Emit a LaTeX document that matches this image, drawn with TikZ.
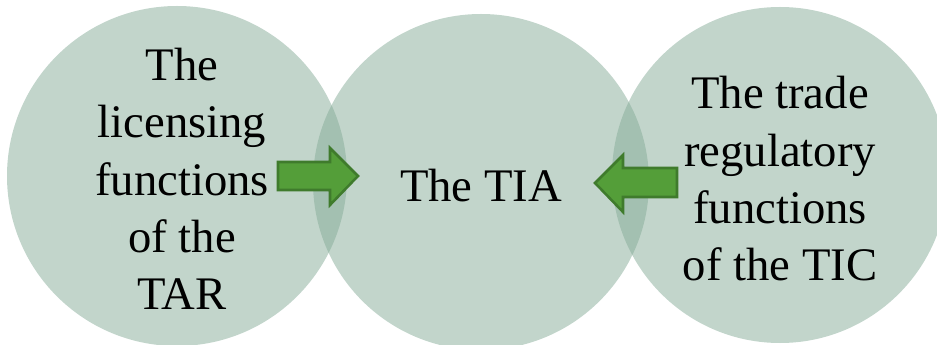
\documentclass[tikz,border=0pt]{standalone}
\usepackage{fontspec}
\setmainfont{Liberation Serif}
\definecolor{circ}{RGB}{133,171,151}
\definecolor{arrfill}{RGB}{84,158,57}
\definecolor{arrline}{RGB}{63,123,44}
\tikzset{
  venn/.style={fill=circ, fill opacity=0.5, draw=none},
  lbl/.style={text=black, align=center, font=\fontsize{35pt}{43pt}\selectfont, inner sep=0pt},
  blockarrow/.style={fill=arrfill, draw=arrline, line width=1.9pt, line join=miter}
}
\begin{document}
\begin{tikzpicture}[x={(0.75pt,0)}, y={(0,-0.75pt)}]
\useasboundingbox (0,0) rectangle (937,345);
\begin{scope}
\clip (0,0) rectangle (937,345);
\fill[venn] (177,176) circle (170);
\fill[venn] (481,182) circle (168);
\fill[venn] (780,175) circle (168);
\end{scope}
\node[lbl] (tar) at (182,179) {The\\licensing\\functions\\of the\\TAR};
\node[lbl, anchor=base] (tia) at (481,202) {The TIA};
\node[lbl] (tic) at (780,179) {The trade\\regulatory\\functions\\of the TIC};
\draw[blockarrow] (278,162) -- (330,162) -- (330,148) -- (358,176) -- (330,205) -- (330,190) -- (278,190) -- cycle;
\draw[blockarrow] (677,168) -- (623,168) -- (623,155) -- (595,183) -- (623,212) -- (623,197) -- (677,197) -- cycle;
\end{tikzpicture}
\end{document}
